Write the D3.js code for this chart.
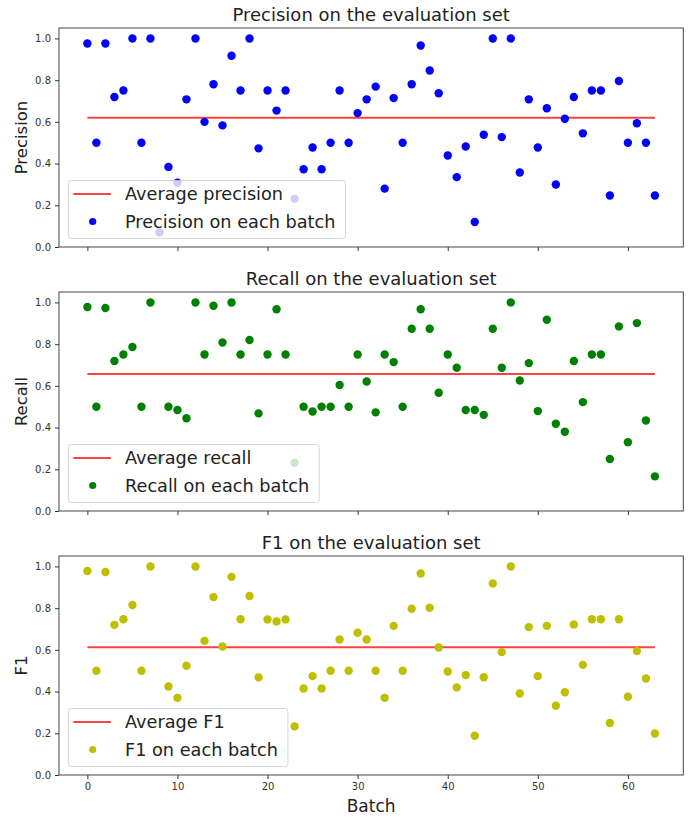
<!DOCTYPE html>
<html><head><meta charset="utf-8">
<script src="https://cdn.jsdelivr.net/npm/d3@7"></script>
<style>body{margin:0;background:#fff} svg{display:block;font-family:"DejaVu Sans",sans-serif}</style>
</head><body><svg id="c" width="697" height="819"></svg>
<script>
const precision = [0.976,0.5,0.976,0.719,0.75,1.0,0.5,1.0,0.07,0.384,
  0.308,0.708,1.0,0.6,0.78,0.583,0.917,0.75,1.0,0.473,
  0.75,0.654,0.75,0.232,0.373,0.477,0.373,0.5,0.75,0.5,
  0.642,0.708,0.769,0.28,0.714,0.5,0.78,0.966,0.846,0.737,
  0.439,0.335,0.482,0.12,0.538,1.0,0.527,1.0,0.357,0.708,
  0.477,0.665,0.3,0.615,0.719,0.545,0.75,0.75,0.247,0.796,
  0.5,0.593,0.5,0.247];
const recall = [0.978,0.5,0.973,0.719,0.75,0.786,0.5,1.0,0.25,0.5,
  0.484,0.445,1.0,0.75,0.984,0.808,1.0,0.75,0.82,0.468,
  0.75,0.967,0.75,0.231,0.5,0.477,0.5,0.5,0.604,0.5,
  0.75,0.621,0.473,0.75,0.714,0.5,0.874,0.967,0.874,0.567,
  0.75,0.687,0.484,0.484,0.461,0.874,0.687,1.0,0.626,0.709,
  0.479,0.917,0.418,0.38,0.719,0.522,0.75,0.75,0.249,0.885,
  0.33,0.901,0.434,0.166];
const f1 = [0.978,0.5,0.973,0.72,0.747,0.815,0.5,1.0,0.12,0.424,
  0.37,0.524,1.0,0.643,0.853,0.616,0.95,0.747,0.858,0.468,
  0.746,0.736,0.746,0.233,0.415,0.474,0.415,0.5,0.65,0.5,
  0.682,0.65,0.5,0.37,0.715,0.5,0.797,0.966,0.802,0.611,
  0.496,0.42,0.479,0.188,0.469,0.918,0.589,1.0,0.391,0.709,
  0.474,0.715,0.332,0.397,0.722,0.528,0.747,0.747,0.249,0.747,
  0.375,0.594,0.463,0.199];
const avgPrecision = 0.62;
const avgRecall = 0.657;
const avgF1 = 0.612;
const xTicks = [0,10,20,30,40,50,60];
const yTicks = [0,0.2,0.4,0.6,0.8,1.0];
const titles = ["Precision on the evaluation set","Recall on the evaluation set","F1 on the evaluation set"];
const yLabels = ["Precision","Recall","F1"];
const avgLabels = ["Average precision","Average recall","Average F1"];
const pointLabels = ["Precision on each batch","Recall on each batch","F1 on each batch"];
const colors = ["#0000ff","#008000","#bfbf00"];

const series = [precision, recall, f1];
const avgs = [avgPrecision, avgRecall, avgF1];
const tops = [28, 292, 556];
const H = 219, L = 59, R = 683.3;

const svg = d3.select("#c");
const n = precision.length;
const x = d3.scaleLinear().domain([-0.05*(n-1), (n-1)*1.05]).range([L, R]);

series.forEach((vals, p) => {
  const top = tops[p], bottom = top + H;
  const y = d3.scaleLinear().domain([0, 1.05]).range([bottom, top]);
  const g = svg.append("g");

  g.append("text").attr("x", (L+R)/2).attr("y", top - 7).attr("text-anchor","middle")
    .attr("font-size", 18).attr("fill","#222").text(titles[p]);
  g.append("text").attr("transform", `translate(27,${(top+bottom)/2}) rotate(-90)`)
    .attr("text-anchor","middle").attr("font-size", 16.5).attr("fill","#222").text(yLabels[p]);

  const ya = g.append("g").attr("transform", `translate(${L},0)`)
    .call(d3.axisLeft(y).tickValues(yTicks).tickFormat(d3.format(".1f")).tickSize(4).tickPadding(4));
  const xa = g.append("g").attr("transform", `translate(0,${bottom})`)
    .call(d3.axisBottom(x).tickValues(xTicks).tickSize(4).tickPadding(4)
      .tickFormat(p === 2 ? d3.format("d") : () => ""));
  [ya, xa].forEach(a => {
    a.select(".domain").remove();
    a.selectAll("line").attr("stroke","#333");
    a.selectAll("text").attr("font-size", 10).attr("fill","#333").attr("font-family","DejaVu Sans");
  });

  g.append("line").attr("x1", x(0)).attr("x2", x(n-1))
    .attr("y1", y(avgs[p])).attr("y2", y(avgs[p]))
    .attr("stroke","#ff0000").attr("stroke-opacity",0.75).attr("stroke-width",2);

  g.append("g").selectAll("circle").data(vals).join("circle")
    .attr("cx", (d,i) => x(i)).attr("cy", d => y(d)).attr("r", 4.2)
    .attr("fill", colors[p]);

  g.append("rect").attr("x", L).attr("y", top).attr("width", R-L).attr("height", H)
    .attr("fill","none").attr("stroke","#444").attr("stroke-width",1);

  const fs = 17.7;
  const lg = g.append("g");
  const lx = L + 9.3, lh = 58, ly = bottom - 8.5 - lh;
  const box = lg.append("rect").attr("x", lx).attr("y", ly).attr("height", lh).attr("rx", 3)
    .attr("fill","#fff").attr("fill-opacity",0.8).attr("stroke","#ccc").attr("stroke-opacity",0.8);
  const r1 = ly + 13.5, r2 = ly + 41;
  lg.append("line").attr("x1", lx+5).attr("x2", lx+42.5).attr("y1", r1).attr("y2", r1)
    .attr("stroke","#ff0000").attr("stroke-opacity",0.75).attr("stroke-width",2);
  lg.append("circle").attr("cx", lx+24.4).attr("cy", r2).attr("r", 3.6).attr("fill", colors[p]);
  const tx = lx + 56.7;
  const t1 = lg.append("text").attr("x", tx).attr("y", r1).attr("dy","0.35em").attr("font-size", fs)
    .attr("fill","#222").text(avgLabels[p]);
  const t2 = lg.append("text").attr("x", tx).attr("y", r2).attr("dy","0.35em").attr("font-size", fs)
    .attr("fill","#222").text(pointLabels[p]);
  const w = Math.max(t1.node().getComputedTextLength(), t2.node().getComputedTextLength());
  box.attr("width", tx - lx + w + 10);
});

svg.append("text").attr("x", (L+R)/2).attr("y", 812).attr("text-anchor","middle")
  .attr("font-size", 17).attr("fill","#222").text("Batch");
</script></body></html>
